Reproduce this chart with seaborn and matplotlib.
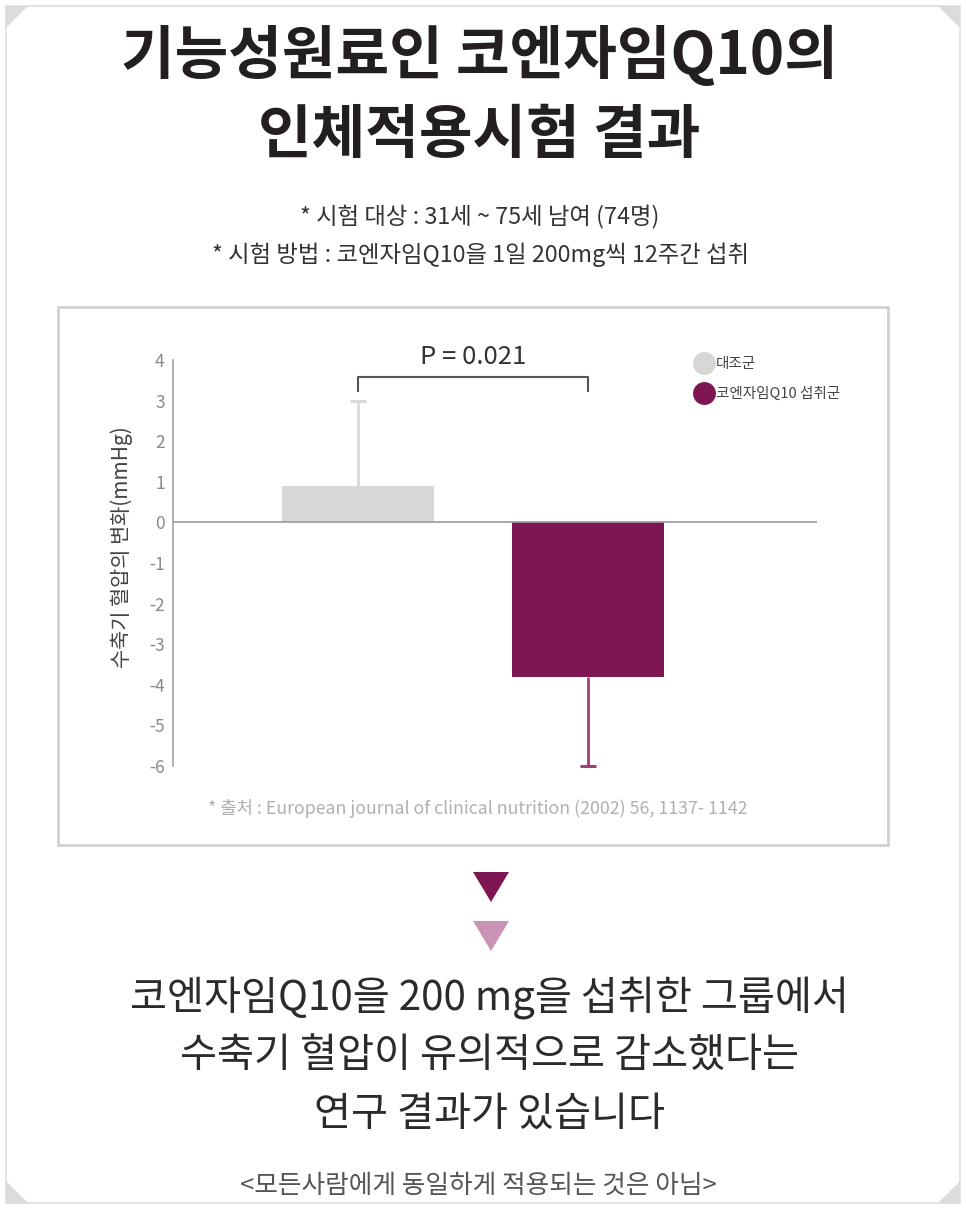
import matplotlib
matplotlib.use("Agg")
import matplotlib.pyplot as plt
from matplotlib.lines import Line2D
from matplotlib.patches import Polygon, Rectangle
import seaborn as sns
import pandas as pd

# ---------------- data ----------------
groups = ["대조군", "코엔자임Q10 섭취군"]
values = [0.9, -3.8]            # change in systolic BP (mmHg)
err_up = [2.1, 0.0]             # upper error (control)
err_down = [0.0, 2.2]           # lower error (CoQ10)
yticks = [4, 3, 2, 1, 0, -1, -2, -3, -4, -5, -6]
p_text = "P = 0.021"

title_lines = ["기능성원료인 코엔자임Q10의", "인체적용시험 결과"]
sub_lines = ["* 시험 대상 : 31세 ~ 75세 남여 (74명)",
             "* 시험 방법 : 코엔자임Q10을 1일 200mg씩 12주간 섭취"]
ylabel = "수축기 혈압의 변화(mmHg)"
source = "* 출처 : European journal of clinical nutrition (2002) 56, 1137- 1142"
result_lines = ["코엔자임Q10을 200 mg을 섭취한 그룹에서",
                "수축기 혈압이 유의적으로 감소했다는",
                "연구 결과가 있습니다"]
note = "<모든사람에게 동일하게 적용되는 것은 아님>"

colors = ["#d6d8d7", "#7e1654"]
err_colors = ["#d9d9d9", "#a0407a"]

# ---------------- style ----------------
sns.set_theme(style="white")
plt.rcParams["font.family"] = ["Noto Sans CJK KR", "DejaVu Sans"]

W, H = 966, 1209
fig = plt.figure(figsize=(W / 100, H / 100), dpi=100)
fig.patch.set_facecolor("white")


def fx(x):
    return x / W


def fy(y):
    return 1 - y / H


# outer frame + corner triangles
fig.add_artist(Rectangle((fx(6), fy(1203)), fx(954), (1197) / H,
                         transform=fig.transFigure, fill=False,
                         edgecolor="#dedede", lw=1.2))
for tri in [[(6, 6), (28, 6), (6, 28)],
            [(960, 6), (938, 6), (960, 28)],
            [(6, 1203), (28, 1203), (6, 1181)],
            [(960, 1203), (938, 1203), (960, 1181)]]:
    fig.add_artist(Polygon([(fx(a), fy(b)) for a, b in tri], closed=True,
                           transform=fig.transFigure, facecolor="#dcdcdc",
                           edgecolor="none"))

# chart frame box
fig.add_artist(Rectangle((fx(58), fy(845)), fx(830), (845 - 307) / H,
                         transform=fig.transFigure, fill=False,
                         edgecolor="#d0d0d0", lw=2))

# titles
for i, t in enumerate(title_lines):
    fig.text(fx(479), fy(56 + i * 80), t, ha="center", va="center",
             fontsize=42, fontweight="bold", color="#231f20")
for i, t in enumerate(sub_lines):
    fig.text(fx(480), fy(217 + i * 38), t, ha="center", va="center",
             fontsize=16.8, color="#333333")

# ---------------- chart ----------------
ax = fig.add_axes([fx(173), fy(766), fx(817 - 173), (766 - 360) / H])
df = pd.DataFrame({"group": groups, "value": values})
sns.barplot(data=df, x="group", y="value", hue="group", palette=colors,
            width=0.66, errorbar=None, legend=False, ax=ax, saturation=1,
            edgecolor="none", zorder=2)

for i, (v, up, dn) in enumerate(zip(values, err_up, err_down)):
    ax.errorbar([i], [v], yerr=[[dn], [up]], fmt="none", ecolor=err_colors[i],
                elinewidth=2, capsize=0, clip_on=False, zorder=1)
    tip = v + up - dn
    ax.plot([i], [tip], marker="_", markersize=12, markeredgewidth=2.2,
            color=err_colors[i], clip_on=False, zorder=1)

ax.set_xlim(-0.804, 1.996)
ax.set_ylim(-6, 4)
ax.set_yticks(yticks)
ax.set_yticklabels([str(t) for t in yticks])
ax.axhline(0, color="#9a9a9a", lw=1.2, zorder=3)
ax.set_xlabel("")
ax.set_xticks([])
ax.set_ylabel(ylabel, fontsize=15, color="#444444")
ax.yaxis.set_label_coords(-0.062, 0.54)
for s in ["top", "right", "bottom"]:
    ax.spines[s].set_visible(False)
ax.spines["left"].set_color("#aaaaaa")
ax.spines["left"].set_linewidth(1.3)
ax.tick_params(axis="y", direction="out", length=4, width=1.2,
               color="#aaaaaa", labelcolor="#8a8a8a", labelsize=12.5, pad=2)
ax.set_facecolor("none")

# significance bracket
ax.plot([0, 0, 1, 1], [3.22, 3.57, 3.57, 3.22], color="#555555", lw=1.5,
        clip_on=False, solid_capstyle="butt")
ax.text(0.5, 4.08, p_text, ha="center", va="center", fontsize=18.5,
        fontweight="medium", color="#333333")

# legend
handles = [Line2D([], [], marker="o", ls="none", markersize=16.5,
                  markerfacecolor=c, markeredgecolor="none") for c in colors]
leg = ax.legend(handles, groups, loc="center left",
                bbox_to_anchor=(fx(688), fy(379)), bbox_transform=fig.transFigure,
                frameon=False, fontsize=10.5, labelspacing=1.05,
                handletextpad=0.2, handlelength=1.2, borderpad=0)
for t in leg.get_texts():
    t.set_color("#444444")
    t.set_fontweight("medium")

fig.text(fx(478), fy(808), source, ha="center", va="center", fontsize=12.8,
         color="#b0b0b0")

# arrows (decorative triangles)
for yc, c in [(885, "#7e1654"), (934, "#c994b5")]:
    fig.add_artist(Polygon([(fx(473), fy(yc - 13)), (fx(509), fy(yc - 13)),
                            (fx(491), fy(yc + 17))], closed=True,
                           transform=fig.transFigure, facecolor=c,
                           edgecolor="none"))

for i, t in enumerate(result_lines):
    fig.text(fx(489), fy(998 + i * 58), t, ha="center", va="center",
             fontsize=29, color="#2b2b2b")
fig.text(fx(478), fy(1186), note, ha="center", va="center", fontsize=18.5,
         color="#555555")

fig.savefig("out.png", dpi=100, facecolor="white")
